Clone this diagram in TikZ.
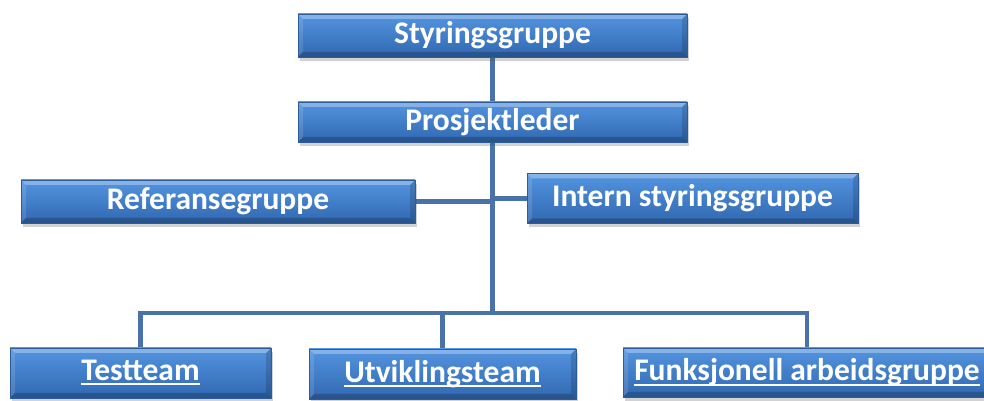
\documentclass[tikz,border=0pt]{standalone}
\usepackage{fontspec}
\setmainfont{Carlito}
\usetikzlibrary{positioning,shadows,backgrounds}

\definecolor{boxtop}{RGB}{84,148,224}
\definecolor{boxbot}{RGB}{48,104,176}
\definecolor{boxedge}{RGB}{46,92,150}
\definecolor{linkcol}{RGB}{72,114,168}

% underlined label, rule at a fixed depth
\newcommand\ulword[1]{\setbox0\hbox{#1}\rlap{\copy0}\rule[-5pt]{\wd0}{1.8pt}}

\begin{document}
\begin{tikzpicture}[x=1pt,y=1pt,
	unit/.style={rectangle,draw=boxedge,line width=0.6pt,top color=boxtop,bottom color=boxbot,
		text=white,font=\bfseries\fontsize{31.5}{36}\selectfont,inner sep=0pt,
		drop shadow={shadow xshift=2pt,shadow yshift=-4pt,opacity=0.25,fill=black!70},
		path picture={
			\fill[white,opacity=0.3] (path picture bounding box.north west) -- (path picture bounding box.north east)
				-- ([shift={(-5pt,-5pt)}]path picture bounding box.north east) -- ([shift={(5pt,-5pt)}]path picture bounding box.north west) -- cycle;
			\fill[white,opacity=0.12] (path picture bounding box.north west) -- ([shift={(5pt,-5pt)}]path picture bounding box.north west)
				-- ([shift={(5pt,5pt)}]path picture bounding box.south west) -- (path picture bounding box.south west) -- cycle;
			\fill[black,opacity=0.2] (path picture bounding box.south west) -- (path picture bounding box.south east)
				-- ([shift={(-5pt,5pt)}]path picture bounding box.south east) -- ([shift={(5pt,5pt)}]path picture bounding box.south west) -- cycle;
			\fill[black,opacity=0.15] (path picture bounding box.north east) -- ([shift={(-5pt,-5pt)}]path picture bounding box.north east)
				-- ([shift={(-5pt,5pt)}]path picture bounding box.south east) -- (path picture bounding box.south east) -- cycle;
		}},
	link/.style={draw=linkcol,line width=4.5pt}]

	\useasboundingbox (0,0) rectangle (984,401);
	\clip (0,0) rectangle (984,401);

	\node[unit,minimum width=389pt,minimum height=43pt] (sty) at (492.5,365.5) {Styringsgruppe};
	\node[unit,minimum width=389pt,minimum height=40pt] (pros) at (492.5,279) {Prosjektleder};
	\node[unit,minimum width=394pt,minimum height=43pt] (ref) at (218,199.5) {Referansegruppe};
	\node[unit,minimum width=331pt,minimum height=50pt] (int) at (692.5,202.5) {Intern styringsgruppe};
	\node[unit,minimum width=261pt,minimum height=50pt] (test) at (140.5,28) {\raisebox{6pt}{\ulword{Testteam}}};
	\node[unit,minimum width=267pt,minimum height=50pt] (utv) at (442.5,27) {\raisebox{6pt}{\ulword{Utviklingsteam}}};
	\node[unit,minimum width=368pt,minimum height=49pt] (funk) at (807,28.5) {\raisebox{4pt}{\ulword{Funksjonell arbeidsgruppe}}};
	\coordinate (bus) at (492.5,88);

	\begin{scope}[on background layer]
		\draw[link] (sty) -- (pros);
		\draw[link] (pros) -- (bus);
		\draw[link] (ref) -- (ref -| pros);
		\draw[link] (int) -- (int -| pros);
		\draw[link] (test.north) |- (bus) -| (funk.north);
		\draw[link] (utv.north) -- (utv.north |- bus);
	\end{scope}
\end{tikzpicture}
\end{document}
